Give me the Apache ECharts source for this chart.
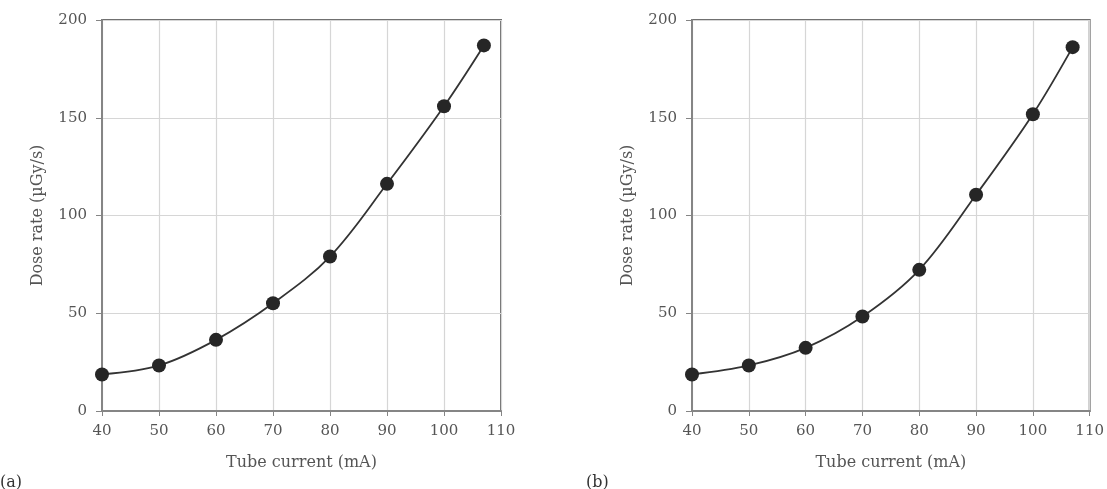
<!DOCTYPE html>
<html>
<head>
<meta charset="utf-8">
<script src="https://cdn.jsdelivr.net/npm/echarts@6/dist/echarts.min.js"></script>
<style>
html,body{margin:0;padding:0;background:#fff;}
#c{width:1107px;height:489px;}
</style>
</head>
<body>
<div id="c"></div>
<script>
var tubeCurrent = [40, 50, 60, 70, 80, 90, 100, 107];
var doseRateA = [18.7, 23.3, 36.4, 55.1, 79.0, 116.2, 155.9, 187.0];
var doseRateB = [18.7, 23.3, 32.3, 48.3, 72.2, 110.6, 151.8, 186.1];
var panelLabels = ['(a)', '(b)'];
var xName = 'Tube current (mA)';
var yName = 'Dose rate (\u00b5Gy/s)';

var FONT = 'DejaVu Serif';
var TXT = '#555555';
var AX = '#858585';

function pairs(xs, ys) { return xs.map(function (x, i) { return [x, ys[i]]; }); }

function xAxis(idx) {
  return {
    type: 'value', gridIndex: idx, min: 40, max: 110, interval: 10,
    name: xName, nameLocation: 'middle', nameGap: 44,
    nameTextStyle: { fontFamily: FONT, fontSize: 16, color: TXT },
    axisLine: { show: true, onZero: false, lineStyle: { color: AX, width: 2 } },
    axisTick: { show: true, inside: false, length: 5, lineStyle: { color: AX } },
    axisLabel: { fontFamily: FONT, fontSize: 15, color: TXT, margin: 13 },
    splitLine: { show: true, lineStyle: { color: '#d6d6d6', width: 1.2 } }
  };
}
function yAxis(idx) {
  return {
    type: 'value', gridIndex: idx, min: 0, max: 200, interval: 50,
    name: yName, nameLocation: 'middle', nameGap: 56, nameRotate: 90,
    nameTextStyle: { fontFamily: FONT, fontSize: 16, color: TXT },
    axisLine: { show: true, lineStyle: { color: AX, width: 2 } },
    axisTick: { show: true, inside: false, length: 6, lineStyle: { color: AX } },
    axisLabel: { fontFamily: FONT, fontSize: 15, color: TXT, margin: 15 },
    splitLine: { show: true, lineStyle: { color: '#d6d6d6', width: 1.2 } }
  };
}
function series(idx, ys) {
  return {
    type: 'line', xAxisIndex: idx, yAxisIndex: idx,
    data: pairs(tubeCurrent, ys), smooth: 0.35,
    symbol: 'circle', symbolSize: 14,
    itemStyle: { color: '#262626' },
    lineStyle: { color: '#333333', width: 1.8 },
    animation: false
  };
}

var chart = echarts.init(document.getElementById('c'), null, { renderer: 'canvas' });
chart.setOption({
  backgroundColor: '#ffffff',
  animation: false,
  grid: [
    { left: 102, top: 20, width: 399, height: 391, show: true, borderColor: '#707070', borderWidth: 2, backgroundColor: 'transparent' },
    { left: 692, top: 20, width: 399, height: 391, show: true, borderColor: '#707070', borderWidth: 2, backgroundColor: 'transparent' }
  ],
  xAxis: [xAxis(0), xAxis(1)],
  yAxis: [yAxis(0), yAxis(1)],
  series: [series(0, doseRateA), series(1, doseRateB)],
  graphic: [
    { type: 'text', left: 0, top: 475, style: { text: panelLabels[0], fontFamily: FONT, fontSize: 16, fill: '#333' } },
    { type: 'text', left: 586, top: 475, style: { text: panelLabels[1], fontFamily: FONT, fontSize: 16, fill: '#333' } }
  ]
});
</script>
</body>
</html>
